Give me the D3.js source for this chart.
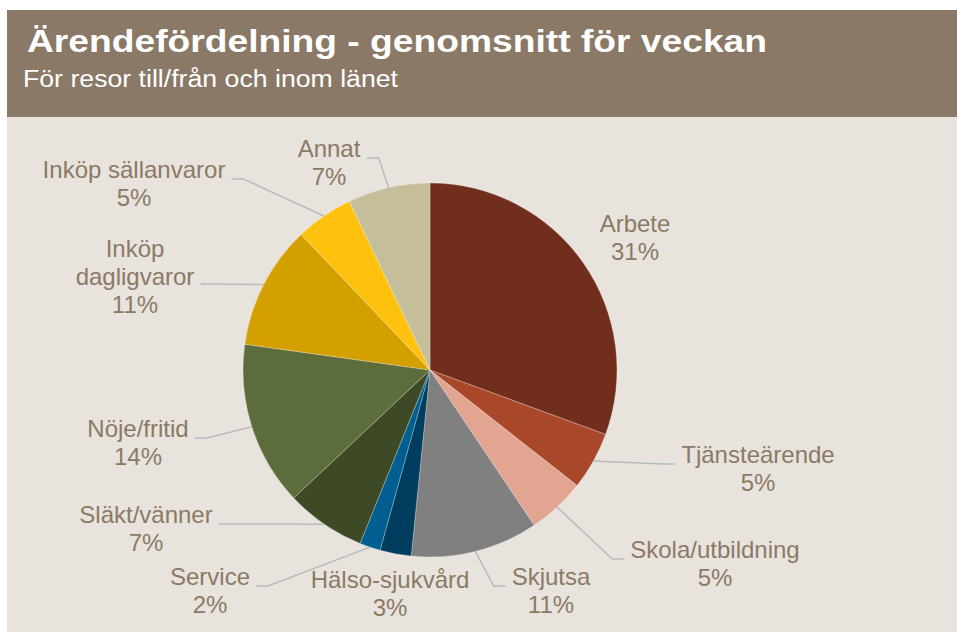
<!DOCTYPE html>
<html>
<head>
<meta charset="utf-8">
<script src="https://cdn.jsdelivr.net/npm/d3@7"></script>
<style>
  body { margin: 0; background: #fff; }
  svg { display: block; font-family: Arial, "Liberation Sans", sans-serif; }
</style>
</head>
<body>
<div id="chart"></div>
<script>
// arende split, percent of all trips
const categories = [
    "Arbete", "Tjänsteärende", "Skola/utbildning", "Skjutsa", "Hälso-sjukvård",
    "Service", "Släkt/vänner", "Nöje/fritid", "Inköp dagligvaror", "Inköp sällanvaror", "Annat"
];
const values = [30.6, 5.0, 5.0, 11.0, 2.7, 1.8, 6.9, 14.2, 10.7, 5.0, 7.1];
const colors = [
    "#722e1d", "#a9472b", "#e2a592", "#808080", "#003d5f",
    "#005f90", "#3d4a25", "#5c6d3b", "#d3a000", "#fec20e", "#c4be9a"
];

// where excel put each label: text centre x, first baseline y, side the leader comes in from
const labelLayout = [
    { x: 635, y: 232, side: null },
    { x: 758, y: 463, side: "right" },
    { x: 715, y: 558, side: "right" },
    { x: 551, y: 585, side: "right" },
    { x: 390, y: 588, side: null },
    { x: 210, y: 585, side: "left" },
    { x: 146, y: 523, side: "left" },
    { x: 138, y: 437, side: "left" },
    { x: 135, y: 257, side: "left", wrap: true, lineDy: 27 },
    { x: 134, y: 178, side: "left" },
    { x: 329, y: 157, side: "left" }
];

const width = 957, height = 632;
const cx = 430, cy = 370, radius = 187;
const lineH = 28;
const textCol = "#8a7a66";

const svg = d3.select("#chart")
    .append("svg")
    .attr("width", width)
    .attr("height", height);

// chart area + header band
svg.append("rect")
    .attr("x", 7).attr("y", 10)
    .attr("width", width - 7).attr("height", height - 10)
    .attr("fill", "#e9e3dd");

svg.append("rect")
    .attr("x", 7).attr("y", 10)
    .attr("width", width - 7).attr("height", 107)
    .attr("fill", "#8a7967");

svg.append("text")
    .attr("x", 27).attr("y", 52)
    .attr("font-size", 32)
    .attr("font-weight", "bold")
    .attr("fill", "#fff")
    .attr("textLength", 740)
    .attr("lengthAdjust", "spacingAndGlyphs")
    .text("Ärendefördelning - genomsnitt för veckan");

svg.append("text")
    .attr("x", 23).attr("y", 87)
    .attr("font-size", 23)
    .attr("fill", "#fff")
    .attr("textLength", 375)
    .attr("lengthAdjust", "spacingAndGlyphs")
    .text("För resor till/från och inom länet");

const data = categories.map((c, i) => ({ name: c, value: values[i], color: colors[i], layout: labelLayout[i] }));
const total = d3.sum(values);
const fmtPct = d3.format(".0%");

const pie = d3.pie().sort(null).value(d => d.value);
const arcs = pie(data);

const arc = d3.arc().innerRadius(0).outerRadius(radius);

const g = svg.append("g").attr("transform", `translate(${cx},${cy})`);

g.selectAll("path.slice")
    .data(arcs)
    .join("path")
    .attr("class", "slice")
    .attr("d", arc)
    .attr("fill", d => d.data.color)
    .attr("stroke", "rgba(255,255,255,0.35)")
    .attr("stroke-width", 0.75);

// labels
const labels = svg.append("g").attr("class", "labels");

arcs.forEach(d => {
    const L = d.data.layout;
    const lines = L.wrap ? d.data.name.split(" ") : [d.data.name];
    lines.push(fmtPct(d.data.value / total));

    const t = labels.append("text")
        .attr("text-anchor", "middle")
        .attr("font-size", 24)
        .attr("fill", textCol);

    lines.forEach((ln, k) => {
        t.append("tspan")
            .attr("x", L.x)
            .attr("y", L.y + k * lineH)
            .text(ln);
    });

    if (!L.side) return;

    // leader line: pie edge at slice middle -> elbow -> side of the label box
    const bb = t.node().getBBox();
    const mid = (d.startAngle + d.endAngle) / 2;
    const px = cx + radius * Math.sin(mid);
    const py = cy - radius * Math.cos(mid);
    const ly = L.y + (L.lineDy != null ? L.lineDy : 1);
    let ex, elx;
    if (L.side === "left") {
        ex = bb.x + bb.width + 6;
        elx = ex + 12;
    } else {
        ex = bb.x - 6;
        elx = ex - 12;
    }

    labels.append("path")
        .attr("d", d3.line()([[px, py], [elx, ly], [ex, ly]]))
        .attr("fill", "none")
        .attr("stroke", "#b6bbbe")
        .attr("stroke-width", 1.5);
});
</script>
</body>
</html>
